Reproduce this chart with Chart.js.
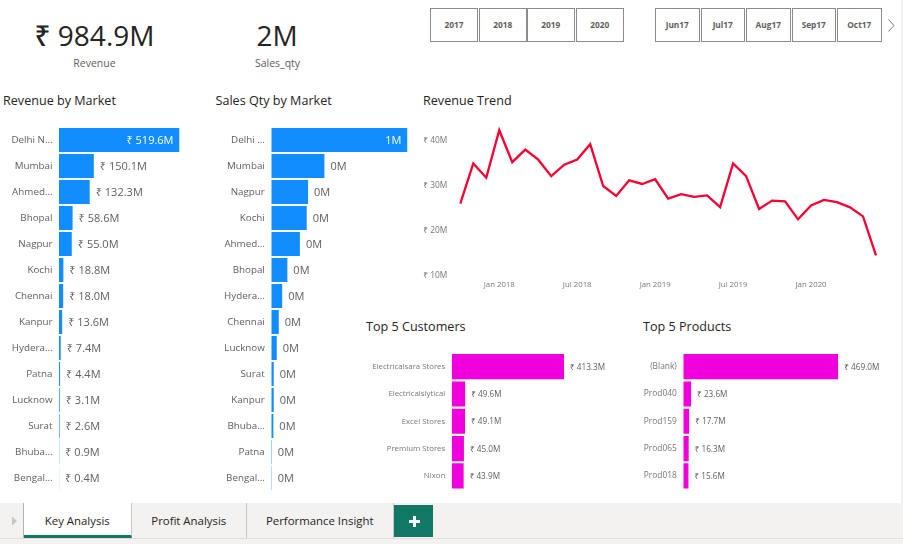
<!DOCTYPE html>
<html><head><meta charset="utf-8">
<script src="https://cdn.jsdelivr.net/npm/chart.js@4"></script>
<style>
html,body{margin:0;padding:0;background:#fff;width:903px;height:544px;overflow:hidden;font-family:"Open Sans","Noto Sans",sans-serif}
.t{position:absolute;white-space:nowrap}
canvas{position:absolute}
.title{font-size:12.6px;font-weight:500;color:#252423;line-height:16px}
.kpi{font-size:28px;font-weight:500;color:#252423;transform:translateX(-50%);line-height:36px}
.kpil{font-size:10.5px;color:#605E5C;transform:translateX(-50%);line-height:14px}
.sl{position:absolute;top:8px;height:31.5px;border:1px solid #8c8c8c;text-align:center;line-height:32px;font-size:8.3px;font-weight:700;color:#605E5C;background:#fff;box-sizing:content-box}
.tab{position:absolute;top:503px;height:35px;line-height:36px;text-align:center;font-size:11.4px;color:#252423;border-right:1px solid #c8c6c4;box-sizing:border-box}
</style></head><body>
<div id="root"></div>
<script>
const revCats=["Delhi N…","Mumbai","Ahmed…","Bhopal","Nagpur","Kochi","Chennai","Kanpur","Hydera…","Patna","Lucknow","Surat","Bhuba…","Bengal…"];
const revVals=[519.6,150.1,132.3,58.6,55.0,18.8,18.0,13.6,7.4,4.4,3.1,2.6,0.9,0.4];
const qtyCats=["Delhi …","Mumbai","Nagpur","Kochi","Ahmed…","Bhopal","Hydera…","Chennai","Lucknow","Surat","Kanpur","Bhuba…","Patna","Bengal…"];
const qtyVals=[1.0,0.39,0.27,0.26,0.21,0.118,0.08,0.055,0.04,0.018,0.018,0.015,0.004,0.003];
const custCats=["Electricalsara Stores","Electricalslytical","Excel Stores","Premium Stores","Nixon"];
const custVals=[413.3,49.6,49.1,45.0,43.9];
const prodCats=["(Blank)","Prod040","Prod159","Prod065","Prod018"];
const prodVals=[469.0,23.6,17.7,16.3,15.6];
const trendMonths=["Oct 2017","Nov 2017","Dec 2017","Jan 2018","Feb 2018","Mar 2018","Apr 2018","May 2018","Jun 2018","Jul 2018","Aug 2018","Sep 2018","Oct 2018","Nov 2018","Dec 2018","Jan 2019","Feb 2019","Mar 2019","Apr 2019","May 2019","Jun 2019","Jul 2019","Aug 2019","Sep 2019","Oct 2019","Nov 2019","Dec 2019","Jan 2020","Feb 2020","Mar 2020","Apr 2020","May 2020","Jun 2020"];
const trendVals=[26.1,35.0,31.85,42.4,35.3,38.1,35.85,32.2,34.75,35.9,39.3,30.0,27.8,31.25,30.45,31.5,27.2,28.2,27.6,27.9,25.3,35.0,32.2,24.9,26.75,26.6,22.6,25.7,26.9,26.4,25.25,23.25,14.6];
const yearLabels=["2017","2018","2019","2020"];
const monthLabels=["Jun17","Jul17","Aug17","Sep17","Oct17"];
const tabLabels=["Key Analysis","Profit Analysis","Performance Insight"];

const FONT='"Open Sans","Noto Sans",sans-serif';
const root=document.getElementById('root');
function el(cls,txt,css){const d=document.createElement('div');d.className=cls;d.textContent=txt;d.style.cssText=css;root.appendChild(d);return d;}
function canvas(l,t,w,h){const b=document.createElement('div');b.style.cssText=`position:absolute;left:${l}px;top:${t}px;width:${w}px;height:${h}px`;root.appendChild(b);
 const c=document.createElement('canvas');c.style.cssText=`left:0;top:0;width:${w}px;height:${h}px`;c.width=w;c.height=h;b.appendChild(c);return c;}
function noPad(s){s.paddingTop=0;s.paddingBottom=0;s.paddingLeft=0;s.paddingRight=0;}

el('t kpi','₹ 984.9M','left:94.5px;top:17px');
el('t kpil','Revenue','left:94.5px;top:56px');
el('t kpi','2M','left:277px;top:17px');
el('t kpil','Sales_qty','left:277.5px;top:56px');
el('t title','Revenue by Market','left:3px;top:92.5px');
el('t title','Sales Qty by Market','left:215.5px;top:92.5px');
el('t title','Revenue Trend','left:423px;top:92.5px');
el('t title','Top 5 Customers','left:366px;top:318.5px');
el('t title','Top 5 Products','left:643px;top:318.5px');

const yearX=[430,479,527,576],yearW=[46,45.5,45.5,45.5];
yearLabels.forEach((s,i)=>el('sl',s,`left:${yearX[i]}px;width:${yearW[i]}px`));
const monX=[655,700.5,746,791.5,837],monW=[42.5,42.5,42.5,42.5,42.5];
monthLabels.forEach((s,i)=>el('sl',s,`left:${monX[i]}px;width:${monW[i]}px`));
root.insertAdjacentHTML('beforeend','<svg style="position:absolute;left:885px;top:18px" width="12" height="16"><path d="M3.5 1.5 L9 7.5 L3.5 13.5" fill="none" stroke="#777" stroke-width="1"/></svg>');

el('t','','left:0;top:503px;width:903px;height:35px;background:#F3F2F1');
el('t','','left:0;top:538px;width:903px;height:1px;background:#E1DFDD');
el('t','','left:0;top:539px;width:903px;height:5px;background:#F3F2F1');
el('t','','left:901px;top:0;width:2px;height:503px;background:#F0F0F0');
el('t','','left:23px;top:503px;width:1px;height:35px;background:#b5b3b1');
root.insertAdjacentHTML('beforeend','<svg style="position:absolute;left:11px;top:515px" width="8" height="12"><path d="M1 1.5 L6 6 L1 10.5Z" fill="#C8C6C4"/></svg>');
const tabX=[24,131.5,247],tabW=[107.5,115.5,146.5];
tabLabels.forEach((s,i)=>el('tab',s,`left:${tabX[i]}px;width:${tabW[i]}px;`+(i===0?'background:#fff;border-bottom:3.5px solid #117865;':'')));
el('t','','left:394px;top:505px;width:39px;height:32px;background:#117865');
el('t','','left:408.5px;top:519.5px;width:11px;height:3px;background:#fff');
el('t','','left:412.5px;top:515.5px;width:3px;height:11px;background:#fff');

const valueLabels={id:'valueLabels',afterDatasetsDraw(chart,a,o){
 const ctx=chart.ctx,meta=chart.getDatasetMeta(0),vals=chart.data.datasets[0].data;
 ctx.save();ctx.font=`${o.size}px ${FONT}`;ctx.textBaseline='middle';
 meta.data.forEach((b,i)=>{const txt=o.fmt(vals[i]);
  if(o.insideFirst&&i===0){ctx.fillStyle='#fff';ctx.textAlign='right';ctx.fillText(txt,b.x-o.gap,b.y+o.dy);}
  else{ctx.fillStyle='#605E5C';ctx.textAlign='left';ctx.fillText(txt,b.x+o.gap,b.y+o.dy);}
 });ctx.restore();}};

function barChart(box,cats,vals,color,p){
 const c=canvas(box.l,box.t,box.w,box.h);
 new Chart(c,{type:'bar',plugins:[valueLabels],data:{labels:cats,datasets:[{data:vals,backgroundColor:color,barPercentage:0.92,categoryPercentage:1}]},
 options:{indexAxis:'y',responsive:false,animation:false,events:[],
  layout:{padding:{top:p.top,bottom:p.bottom,left:0,right:p.right}},
  plugins:{legend:{display:false},tooltip:{enabled:false},valueLabels:{size:p.lab,gap:p.gap,dy:p.dy,fmt:p.fmt,insideFirst:p.inside}},
  scales:{x:{display:false,min:0,max:Math.max(...vals)},
   y:{afterFit(s){s.width=p.axis;noPad(s);},grid:{display:false,drawTicks:false},border:{display:false},
    ticks:{autoSkip:false,color:p.tc,padding:p.pad,font:{family:FONT,size:p.tick}}}}}});
}
const rs=v=>'₹ '+v.toFixed(1)+'M';
barChart({l:0,t:120,w:215,h:375},revCats,revVals,'#118DFF',{top:7,bottom:4,right:35.5,axis:59,lab:11,gap:6,dy:.7,fmt:rs,inside:true,pad:6.5,tick:9.8,tc:'#605E5C'});
barChart({l:210,t:120,w:205,h:375},qtyCats,qtyVals,'#118DFF',{top:7,bottom:4,right:7.5,axis:61.3,lab:11,gap:6,dy:.7,fmt:v=>v.toFixed(0)+'M',inside:true,pad:6.5,tick:9.8,tc:'#605E5C'});
barChart({l:360,t:345,w:270,h:150},custCats,custVals,'#F000DC',{top:8,bottom:5.4,right:66,axis:91.7,lab:8.2,gap:6,dy:.7,fmt:rs,inside:false,pad:6.5,tick:7.8,tc:'#777'});
barChart({l:635,t:345,w:260,h:150},prodCats,prodVals,'#F000DC',{top:8,bottom:5.4,right:56.7,axis:48.3,lab:8.2,gap:6,dy:.7,fmt:rs,inside:false,pad:6.5,tick:8.4,tc:'#777'});

const lc=canvas(415,118,470,180);
new Chart(lc,{type:'line',data:{labels:trendMonths,datasets:[{data:trendVals,borderColor:'#F70032',borderWidth:2.3,pointRadius:0,tension:0,fill:false,borderJoinStyle:'miter'}]},
 options:{responsive:false,animation:false,events:[],
  layout:{padding:{top:.5,bottom:0,left:0,right:9}},
  plugins:{legend:{display:false},tooltip:{enabled:false}},
  scales:{
   x:{afterFit(s){s.height=22;noPad(s);},grid:{display:false,drawTicks:false},border:{display:false},
    ticks:{autoSkip:false,maxRotation:0,minRotation:0,padding:4,color:'#777',font:{family:FONT,size:7.8},
     callback(v){const m=trendMonths[v];return /^(Jan|Jul)/.test(m)?m:'';}}},
   y:{min:10,max:45,afterFit(s){s.width=45.3;noPad(s);},grid:{display:false,drawTicks:false},border:{display:false},
    ticks:{stepSize:10,includeBounds:false,padding:13,color:'#777',font:{family:FONT,size:8.4},callback:v=>'₹ '+v+'M'}}}}});
</script>
</body></html>
